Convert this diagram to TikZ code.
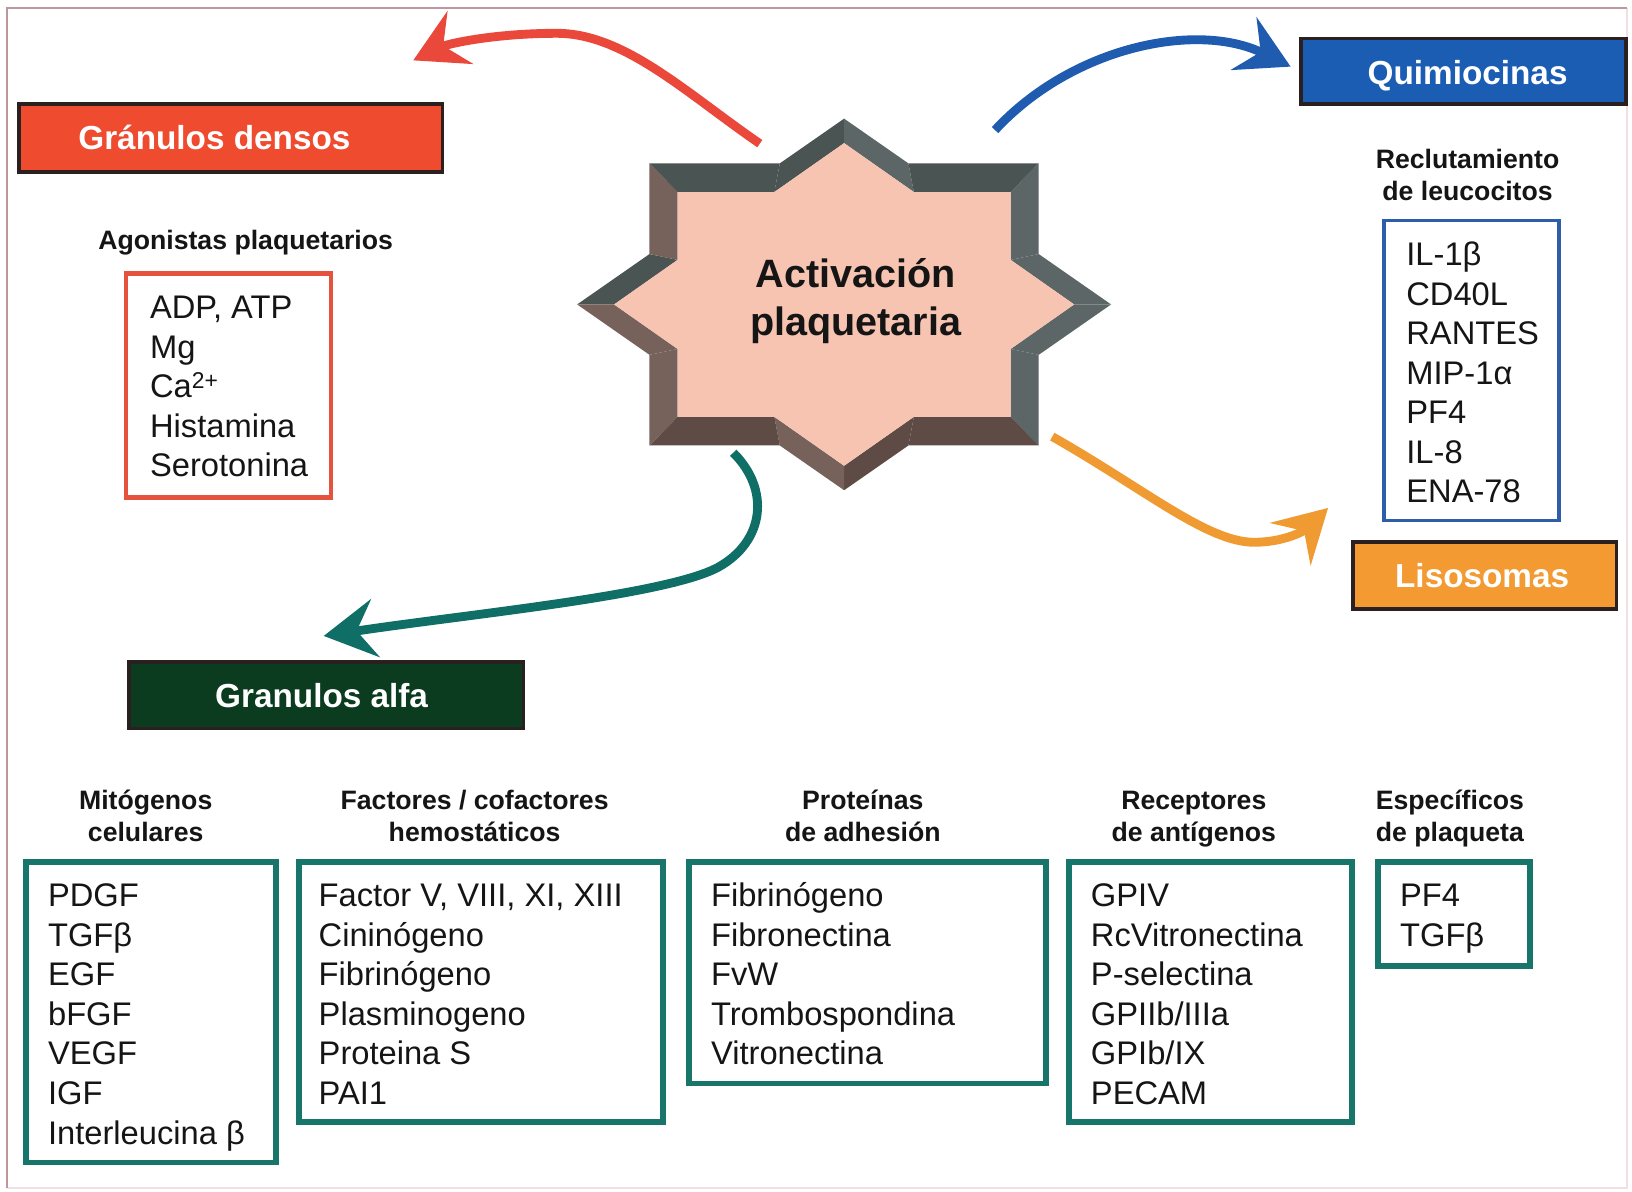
\documentclass[tikz,border=0pt]{standalone}
\usepackage{fontspec}
\setmainfont{Liberation Sans}
\usetikzlibrary{arrows.meta}
\definecolor{txt}{HTML}{151515}
\definecolor{frameL}{HTML}{BE969E}
\definecolor{frameR}{HTML}{F2DFE3}
\definecolor{gdfill}{HTML}{EF4B2F}
\definecolor{qufill}{HTML}{1C5DB4}
\definecolor{lifill}{HTML}{F39A33}
\definecolor{gafill}{HTML}{0C3C1F}
\definecolor{hdborder}{HTML}{2A2020}
\definecolor{redb}{HTML}{E5533E}
\definecolor{blueb}{HTML}{2E5EAA}
\definecolor{tealb}{HTML}{17756A}
\definecolor{redarr}{HTML}{E9483A}
\definecolor{bluearr}{HTML}{1F5CB0}
\definecolor{orarr}{HTML}{F09A32}
\definecolor{tealarr}{HTML}{0F6E66}
\definecolor{pinkface}{HTML}{F6C4B1}
\definecolor{topgray}{HTML}{4A5452}
\definecolor{rightgray}{HTML}{5C6666}
\definecolor{leftbrown}{HTML}{76615B}
\definecolor{botbrown}{HTML}{5E4B46}
\tikzset{
  hdbox/.style={rectangle, inner sep=0pt, line width=3.5pt, draw=hdborder},
  htext/.style={font=\bfseries\fontsize{32}{38}\selectfont, text=white, inner sep=0pt, anchor=base},
  subhd/.style={font=\bfseries\fontsize{25.6}{30}\selectfont, align=center, inner sep=0pt, text=txt},
  listtxt/.style={font=\fontsize{31.4}{38}\selectfont, align=left, inner sep=0pt, anchor=north west, text=txt},
  lbox/.style={rectangle, inner sep=0pt, fill=white},
  arr/.style={line width=8.5pt, -{Stealth[length=50pt,width=56pt,inset=18pt]}},
  titletxt/.style={font=\bfseries\fontsize{38}{46}\selectfont, align=center, inner sep=0pt, text=txt, anchor=north}
}
\begin{document}
\begin{tikzpicture}[x=1pt,y=-1pt]
\useasboundingbox (0,0) rectangle (1568,1145);
% frame
\draw[frameR, line width=2pt] (1563,8) -- (1563,1141) -- (7,1141);
\draw[frameL, line width=2pt] (7,1141) -- (7,8) -- (1563,8);

% header boxes
\node[hdbox, fill=gdfill, minimum width=407pt, minimum height=65pt] (gd) at (221.5,132.5) {};
\node[htext] (gdt) at (206,143.5) {Gránulos densos};
\node[hdbox, fill=qufill, minimum width=312pt, minimum height=63pt] (qu) at (1406,68.5) {};
\node[htext] (qut) at (1410,81.5) {Quimiocinas};
\node[hdbox, fill=lifill, minimum width=253pt, minimum height=64pt] (li) at (1426.5,553) {};
\node[htext] (lit) at (1424,564.5) {Lisosomas};
\node[hdbox, fill=gafill, minimum width=379pt, minimum height=64pt] (ga) at (313.5,668) {};
\node[htext] (gat) at (309,679.5) {Granulos alfa};

% list boxes
\node[lbox, draw=redb, line width=4.5pt, minimum width=197pt, minimum height=215pt] (rbox) at (219.5,370.5) {};
\node[lbox, draw=blueb, line width=3.5pt, minimum width=168pt, minimum height=288pt] (bbox) at (1414,356) {};
\node[lbox, draw=tealb, line width=5.5pt, minimum width=240pt, minimum height=289pt] (t1) at (145,972.5) {};
\node[lbox, draw=tealb, line width=5.5pt, minimum width=350pt, minimum height=250pt] (t2) at (462,953) {};
\node[lbox, draw=tealb, line width=5.5pt, minimum width=343pt, minimum height=213pt] (t3) at (833.5,934.5) {};
\node[lbox, draw=tealb, line width=5.5pt, minimum width=272pt, minimum height=250pt] (t4) at (1163,953) {};
\node[lbox, draw=tealb, line width=5.5pt, minimum width=146pt, minimum height=100pt] (t5) at (1397,878) {};

% star
\coordinate (o1) at (554.5,292.5); \coordinate (o2) at (624,244.1);
\coordinate (o3) at (624,157);     \coordinate (o4) at (749.2,157);
\coordinate (o5) at (811,114);     \coordinate (o6) at (872.8,157);
\coordinate (o7) at (998,157);     \coordinate (o8) at (998,244.1);
\coordinate (o9) at (1067.5,292.5);\coordinate (o10) at (998,340.9);
\coordinate (o11) at (998,428);    \coordinate (o12) at (872.8,428);
\coordinate (o13) at (811,471);    \coordinate (o14) at (749.2,428);
\coordinate (o15) at (624,428);    \coordinate (o16) at (624,340.9);
\coordinate (i1) at (590,292.5);   \coordinate (i2) at (651,249.7);
\coordinate (i3) at (651,184.5);   \coordinate (i4) at (744,184.5);
\coordinate (i5) at (811,137.5);   \coordinate (i6) at (878,184.5);
\coordinate (i7) at (971,184.5);   \coordinate (i8) at (971,249.7);
\coordinate (i9) at (1032,292.5);  \coordinate (i10) at (971,335.3);
\coordinate (i11) at (971,400.5);  \coordinate (i12) at (878,400.5);
\coordinate (i13) at (811,447.5);  \coordinate (i14) at (744,400.5);
\coordinate (i15) at (651,400.5);  \coordinate (i16) at (651,335.3);
\fill[topgray]   (o1)--(o2)--(i2)--(i1)--cycle;
\fill[leftbrown] (o2)--(o3)--(i3)--(i2)--cycle;
\fill[topgray]   (o3)--(o4)--(i4)--(i3)--cycle;
\fill[topgray]   (o4)--(o5)--(i5)--(i4)--cycle;
\fill[rightgray] (o5)--(o6)--(i6)--(i5)--cycle;
\fill[topgray]   (o6)--(o7)--(i7)--(i6)--cycle;
\fill[rightgray] (o7)--(o8)--(i8)--(i7)--cycle;
\fill[rightgray] (o8)--(o9)--(i9)--(i8)--cycle;
\fill[rightgray] (o9)--(o10)--(i10)--(i9)--cycle;
\fill[rightgray] (o10)--(o11)--(i11)--(i10)--cycle;
\fill[botbrown]  (o11)--(o12)--(i12)--(i11)--cycle;
\fill[botbrown]  (o12)--(o13)--(i13)--(i12)--cycle;
\fill[leftbrown] (o13)--(o14)--(i14)--(i13)--cycle;
\fill[botbrown]  (o14)--(o15)--(i15)--(i14)--cycle;
\fill[leftbrown] (o15)--(o16)--(i16)--(i15)--cycle;
\fill[leftbrown] (o16)--(o1)--(i1)--(i16)--cycle;
\fill[pinkface] (i1)--(i2)--(i3)--(i4)--(i5)--(i6)--(i7)--(i8)--(i9)--(i10)--(i11)--(i12)--(i13)--(i14)--(i15)--(i16)--cycle;
\node[titletxt] (act) at (822,246) {\rule{0pt}{30pt}Activación\\plaquetaria};

% arrows
\coordinate (redtail) at (730,138);  \coordinate (redtip) at (397,58);
\coordinate (bluetail) at (956,125); \coordinate (bluetip) at (1240,64);
\coordinate (ortail) at (1011,419.5);\coordinate (ortip) at (1276,488);
\coordinate (tltail) at (704.5,435); \coordinate (tltip) at (311,611);
\draw[arr, redarr] (redtail) .. controls (660,90) and (600,32) .. (535,32)
   .. controls (475,32) and (430,42) .. (redtip);
\draw[arr, bluearr] (bluetail) .. controls (1030,45) and (1150,20) .. (bluetip);
\draw[arr, orarr] (ortail) .. controls (1100,470) and (1160,521) .. (1205,521)
   .. controls (1232,521) and (1252,511) .. (ortip);
\draw[arr, tealarr] (tltail) .. controls (740,470) and (735,520) .. (690,545)
   .. controls (640,572) and (450,590) .. (tltip);

% sub headings
\node[subhd, anchor=base] (agh) at (236,240) {Agonistas plaquetarios};
\node[subhd, anchor=north] (rch) at (1410,142) {\rule{0pt}{20pt}Reclutamiento\\de leucocitos};
\node[subhd, anchor=north] (h1) at (140,758) {\rule{0pt}{20pt}Mitógenos\\celulares};
\node[subhd, anchor=north] (h2) at (456,758) {\rule{0pt}{20pt}Factores / cofactores\\hemostáticos};
\node[subhd, anchor=north] (h3) at (829,758) {\rule{0pt}{20pt}Proteínas\\de adhesión};
\node[subhd, anchor=north] (h4) at (1147,758) {\rule{0pt}{20pt}Receptores\\de antígenos};
\node[subhd, anchor=north] (h5) at (1393,758) {\rule{0pt}{20pt}Específicos\\de plaqueta};

% list texts
\node[listtxt] (rl) at (144,280) {\rule{0pt}{26pt}ADP, ATP\\Mg\\Ca\textsuperscript{2+}\\Histamina\\Serotonina};
\node[listtxt] (bl) at (1351,229) {\rule{0pt}{26pt}IL-1β\\CD40L\\RANTES\\MIP-1α\\PF4\\IL-8\\ENA-78};
\node[listtxt] (l1) at (46,845) {\rule{0pt}{26pt}PDGF\\TGFβ\\EGF\\bFGF\\VEGF\\IGF\\Interleucina β};
\node[listtxt] (l2) at (306,845) {\rule{0pt}{26pt}Factor V, VIII, XI, XIII\\Cininógeno\\Fibrinógeno\\Plasminogeno\\Proteina S\\PAI1};
\node[listtxt] (l3) at (683,845) {\rule{0pt}{26pt}Fibrinógeno\\Fibronectina\\FvW\\Trombospondina\\Vitronectina};
\node[listtxt] (l4) at (1048,845) {\rule{0pt}{26pt}GPIV\\RcVitronectina\\P-selectina\\GPIIb/IIIa\\GPIb/IX\\PECAM};
\node[listtxt] (l5) at (1345,845) {\rule{0pt}{26pt}PF4\\TGFβ};
\end{tikzpicture}
\end{document}
